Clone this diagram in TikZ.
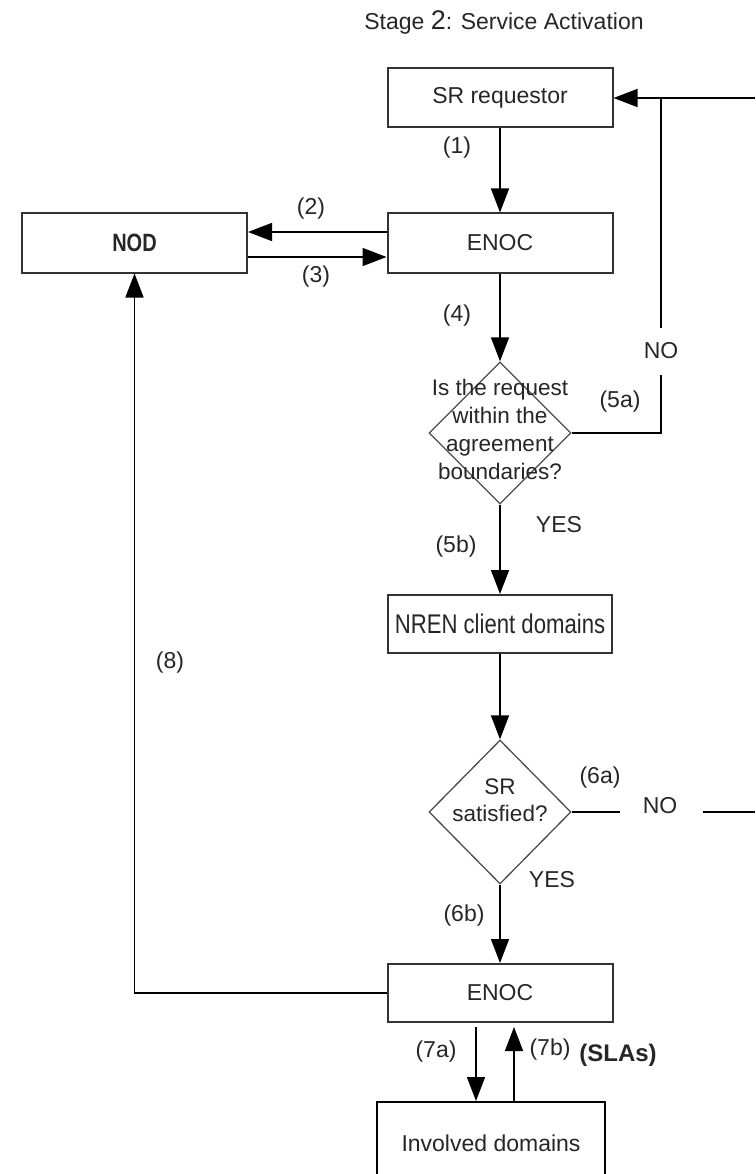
\documentclass[tikz,border=0pt]{standalone}
\usepackage{fontspec}
\setmainfont{Liberation Sans}
\usetikzlibrary{arrows.meta,shapes.geometric}
\begin{document}
\begin{tikzpicture}[x=1pt,y=-1pt,
  lbl/.style={font=\fontsize{23}{28}\selectfont,text=black!85,inner sep=0pt},
  box/.style={lbl,draw=black!80,line width=2pt,rectangle,minimum width=225pt,minimum height=59pt},
  dia/.style={draw=black!70,line width=1.3pt,shape=diamond,minimum width=142pt,minimum height=142pt,inner sep=0pt},
  conn/.style={line width=1.6pt,draw=black},
  arr/.style={conn,-{Triangle[length=24pt,width=18pt]}},
]
\useasboundingbox (0,0) rectangle (755,1174);
\clip (0,0) rectangle (755,1174);
% title
\node[lbl] (title) at (504,22) {Stage {\fontsize{27}{27}\selectfont 2}: Service Activation};
% boxes
\node[box] (sr) at (500,98) {SR requestor};
\node[box] (enoc1) at (500,243) {ENOC};
\node[box] (nod) at (134.5,243) {\fontsize{25}{25}\selectfont\bfseries\scalebox{0.8}[1]{NOD}};
\node[dia] (d1) at (500,433) {};
\node[lbl,align=center,font=\fontsize{22.5}{28}\selectfont] (d1t) at (500,429) {Is the request\\within the\\agreement\\boundaries?};
\node[box,minimum width=224pt,minimum height=58pt] (nren) at (500,624) {\fontsize{27}{27}\selectfont\scalebox{0.82}[1]{NREN client domains}};
\node[dia,minimum height=144pt] (d2) at (500,812) {};
\node[lbl,align=center,font=\fontsize{22.5}{27}\selectfont] (d2t) at (500,800) {SR\\satisfied?};
\node[box,minimum height=58pt] (enoc2) at (500,993) {ENOC};
\node[box,minimum width=228pt,minimum height=82pt,draw=black] (inv) at (491,1143) {Involved domains};
% vertical flow
\draw[arr] (sr) -- (enoc1);
\draw[arr] ([yshift=11pt]enoc1.west) -- ([yshift=11pt]nod.east);
\draw[arr] ([yshift=-14pt]nod.east) -- ([yshift=-14pt]enoc1.west);
\draw[arr] (enoc1.south) -- (d1.north);
\draw[arr] (d1.south) -- (nren.north);
\draw[arr] (nren.south) -- (d2.north);
\draw[arr] (d2.south) -- (enoc2.north);
\draw[arr] (enoc2.west) -| (nod.south);
\coordinate (a7) at (476,1027);
\coordinate (b7) at (514,1027);
\draw[arr] (a7) -- (a7 |- inv.north);
\draw[arr] (b7 |- inv.north) -- (b7);
% NO loops
\node[lbl] (noA) at (661,351) {NO};
\coordinate (rt) at (755,98);
\draw[arr] (rt) -- (sr.east);
\draw[conn] (d1.east) -| ([yshift=-24pt]noA.center);
\draw[conn] ([yshift=23pt]noA.center) -- (noA.center |- sr.east);
\node[lbl] (noB) at (660,806) {NO};
\coordinate (rb) at (755,812);
\draw[conn] (d2.east) -- ([xshift=-40pt]noB.center |- d2.east);
\draw[conn] ([xshift=43pt]noB.center |- d2.east) -- (rb);
% labels
\node[lbl] (l1) at (457,148) {(1)};
\node[lbl] (l2) at (311,209) {(2)};
\node[lbl] (l3) at (316,277) {(3)};
\node[lbl] (l4) at (457,316) {(4)};
\node[lbl] (l5a) at (620,402) {(5a)};
\node[lbl] (yesA) at (559,525) {YES};
\node[lbl] (l5b) at (456,547) {(5b)};
\node[lbl] (l8) at (170,663) {(8)};
\node[lbl] (l6a) at (600,778) {(6a)};
\node[lbl] (yesB) at (552,880) {YES};
\node[lbl] (l6b) at (464,916) {(6b)};
\node[lbl] (l7a) at (436,1052) {(7a)};
\node[lbl] (l7b) at (550,1050) {(7b)};
\node[lbl,font=\fontsize{24}{28}\selectfont\bfseries] (sla) at (618,1055) {(SLAs)};
\end{tikzpicture}
\end{document}
